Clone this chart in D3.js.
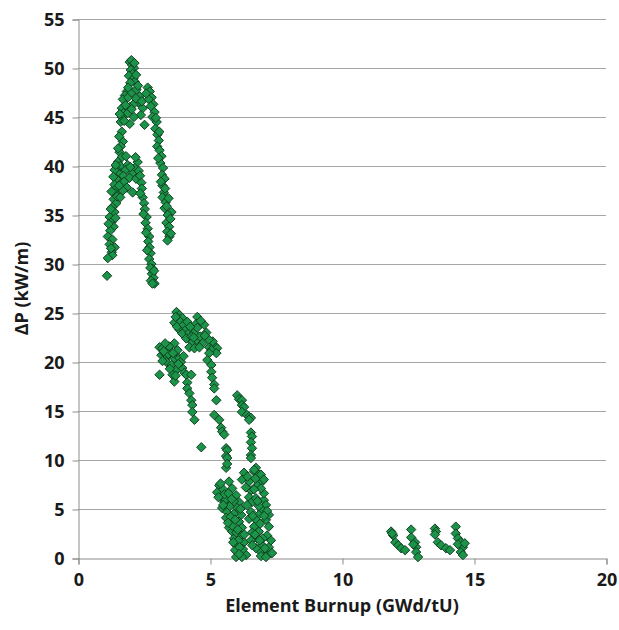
<!DOCTYPE html>
<html>
<head>
<meta charset="utf-8">
<script src="https://cdn.jsdelivr.net/npm/d3@7"></script>
<style>
  body { margin: 0; background: #fff; }
</style>
</head>
<body>
<div id="chart"></div>
<script>
// axis ticks
var xTicks = [0, 5, 10, 15, 20];
var yTicks = [0, 5, 10, 15, 20, 25, 30, 35, 40, 45, 50, 55];

// [burnup GWd/tU, dP kW/m], one list per cloud
var peakTop = [[1.96,50.6],[2.05,50.3],[2.12,50.0],[2.0,49.8],[2.07,49.4],[1.93,49.2],[2.1,48.9],[2.15,48.6],[1.98,48.5],[2.2,49.3],
  [1.85,47.6],[1.78,47.2],[1.7,46.8],[1.9,47.0],[2.03,47.5],[2.22,47.8],[2.34,47.1],[2.28,46.5],[2.1,46.3],[1.95,46.0],
  [1.66,45.9],[1.72,45.4],[1.88,45.4],[2.03,45.8],[2.45,45.9],[2.38,45.2],[1.66,45.0],[1.62,44.5],[1.96,44.3],[2.52,44.2],
  [2.2,46.9],[1.8,46.2],[2.42,46.6],[2.02,50.8],[2.14,50.5],[1.9,48.0],[2.27,48.2],[1.75,44.6],[2.12,45.0],[1.58,45.3]];

var peakRight = [[2.64,48.0],[2.72,47.6],[2.79,47.0],[2.68,46.8],[2.85,46.3],[2.9,45.5],[2.82,45.0],[2.98,44.5],[2.93,43.8],[3.01,43.2],
  [3.06,42.6],[3.0,42.0],[3.09,41.6],[3.16,41.0],[3.12,40.3],[3.22,39.8],[3.18,39.1],[3.28,38.7],[3.2,38.0],[3.25,37.3],
  [3.2,36.8],[3.32,36.3],[3.28,35.7],[3.54,35.3],[3.4,35.0],[3.35,34.2],[3.45,33.8],[3.38,33.3],[3.46,32.8],[3.39,32.4],[3.5,34.6],
  [2.58,47.4],[2.76,46.1],[2.95,44.9],[3.08,43.5],[3.04,40.8],[3.14,38.4],[3.3,37.7],[3.36,35.9],[3.43,36.7],[3.52,33.1]];

var peakLeft = [[1.66,43.5],[1.7,42.5],[1.62,42.0],[1.58,41.4],[1.66,40.9],[1.51,40.4],[1.6,40.0],[1.47,39.6],[1.55,39.2],[1.39,39.6],
  [1.45,38.7],[1.38,38.1],[1.5,37.8],[1.42,37.2],[1.35,36.6],[1.45,36.2],[1.3,35.8],[1.38,35.3],[1.2,34.8],[1.28,34.3],
  [1.35,33.8],[1.22,33.4],[1.13,32.8],[1.3,32.5],[1.2,32.0],[1.39,31.7],[1.28,31.2],[1.3,30.9],[1.13,30.6],[1.1,28.8],
  [1.56,43.0],[1.52,41.8],[1.43,40.1],[1.34,38.9],[1.27,37.4],[1.24,35.6],[1.16,34.1],[1.42,34.7],[1.25,31.6],[1.48,36.9]];

var peakMid = [[1.88,40.1],[1.8,39.6],[1.72,39.0],[2.26,40.4],[2.15,39.8],[2.3,39.5],[2.05,39.2],[1.95,38.8],[1.65,38.2],[1.75,38.4],
  [2.2,38.7],[1.85,37.8],[2.07,37.3],[1.7,37.5],[1.6,36.8],[2.35,39.0],[2.4,38.3],
  [2.42,37.7],[2.45,36.8],[2.5,36.2],[2.53,35.6],[2.6,34.8],[2.56,34.2],[2.64,33.6],[2.7,32.8],[2.66,32.3],[2.71,31.7],
  [2.75,31.1],[2.7,30.5],[2.78,30.0],[2.83,29.5],[2.8,29.0],[2.86,28.6],[2.9,28.0],[2.76,28.3],[2.82,28.0],
  [1.82,41.0],[2.18,40.9],[2.36,37.2],[2.48,35.1],[2.58,33.2],[2.62,31.4],[2.74,29.6],[2.88,29.3],[1.98,39.9],[1.56,38.0]];

var midUpper = [[3.73,25.1],[3.84,24.8],[3.78,24.5],[3.95,24.5],[3.65,24.0],[3.88,24.1],[3.84,23.3],[3.75,23.6],[4.0,23.8],[4.14,24.1],
  [4.05,23.2],[3.95,22.9],[4.22,23.0],[4.41,23.0],[4.52,24.6],[4.48,23.9],[4.78,23.8],[4.52,23.5],[4.86,23.0],[4.1,22.4],
  [4.3,22.6],[4.33,22.0],[4.52,22.2],[4.71,21.9],[4.62,22.6],[4.22,21.5],[4.41,21.4],[4.6,21.5],[4.97,21.5],[5.16,21.7],
  [5.27,21.4],[5.1,22.1],[4.95,22.3],[3.7,24.6],[4.25,23.6],[4.65,24.2],[4.38,22.5],[4.8,22.7],[5.05,21.2]];

var midLeft = [[3.09,21.5],[3.2,21.4],[3.16,20.7],[3.28,20.9],[3.39,20.5],[3.35,20.0],[3.2,20.1],[3.09,18.7],[3.54,19.7],[3.65,20.4],
  [3.65,21.9],[3.54,21.0],[3.77,21.2],[3.84,20.4],[3.73,19.2],[3.58,18.7],[3.65,18.0],[3.45,21.6],[3.3,21.9],[3.48,19.3],
  [3.95,19.4],[3.9,20.0],[3.8,19.8],[3.42,20.8],[3.6,20.9],[3.25,21.1],[3.7,18.6],[4.0,20.6],
  [4.03,18.9],[4.1,18.7],[4.29,18.7],[4.14,17.9],[4.14,17.3],[4.22,16.8],[4.29,16.1],[4.33,15.6],[4.33,14.9],[4.41,14.1],[4.67,11.3]];

var midRight = [[5.24,20.9],[4.97,20.9],[4.9,20.2],[5.05,19.7],[5.05,19.0],[5.08,18.4],[5.16,17.7],[5.16,17.3],[5.24,16.1],[5.16,14.6],
  [5.35,14.1],[5.42,13.3],[5.46,12.9],[5.54,12.6],[5.61,11.2],[5.65,11.0],[5.61,10.4],[5.65,10.2],[5.61,9.2],[5.65,9.6],
  [6.03,16.6],[6.1,16.2],[6.21,16.1],[6.21,15.6],[6.29,15.4],[6.21,14.9],[6.4,14.6],[6.48,14.4],[6.55,14.3],[6.48,14.1],
  [6.55,12.8],[6.59,12.4],[6.55,11.8],[6.59,11.2],[6.55,10.5],[6.55,10.2],[6.74,9.2]];

var lowLeft = [[5.35,7.4],[5.27,6.7],[5.42,6.2],[5.54,5.7],[5.46,5.1],[5.65,4.7],[5.61,4.1],[5.8,3.7],[5.72,3.1],[5.84,2.7],
  [5.91,2.0],[5.99,1.3],[6.03,0.6],[6.18,0.3],[6.37,0.3],[5.99,0.1],[6.21,0.1],[5.72,7.8],[5.84,7.1],[5.99,6.4],
  [6.1,5.7],[6.03,5.1],[6.18,4.4],[6.1,3.7],[6.21,3.1],[6.18,2.3],[6.29,1.6],[6.25,0.9],[5.5,7.0],[5.6,6.0],
  [5.75,5.3],[5.9,4.5],[5.85,3.3],[6.0,2.6],[6.08,1.8],[5.95,0.8],[5.4,7.6],[5.55,6.5],[5.7,6.6],[5.9,5.8],
  [5.78,4.2],[5.95,3.9],[6.12,1.1],[5.32,6.2],[5.5,5.4],[5.68,3.6],[5.88,1.6],[6.1,0.4],[6.05,2.9],[6.3,2.4],[5.82,6.0],[6.15,5.0]];

var lowRight = [[6.29,8.7],[6.21,8.0],[6.48,7.8],[6.67,8.8],[6.85,8.5],[6.97,7.8],[6.78,7.4],[6.55,6.9],[6.48,6.2],[6.59,5.7],
  [6.74,6.1],[7.04,5.9],[7.12,5.4],[6.97,4.9],[6.85,4.4],[6.74,3.9],[6.67,3.2],[6.85,2.7],[6.78,2.0],[6.97,1.3],
  [6.93,0.6],[7.12,0.3],[7.31,0.5],[7.23,1.1],[7.31,1.8],[7.16,2.3],[7.23,3.2],[7.12,3.9],[7.23,4.4],[7.16,4.8],
  [7.04,6.6],[6.93,7.1],[6.67,7.0],[6.4,5.4],[6.55,4.7],[6.48,4.0],[6.59,2.6],[6.55,1.8],[6.74,1.0],[6.93,0.2],
  [6.67,9.0],[6.93,8.5],[7.04,8.0],[7.35,0.5],[7.12,0.1],[6.36,7.2],[6.62,4.3],[6.9,3.5],[7.0,2.0],[6.6,1.3],[6.85,5.3],
  [6.42,8.3],[6.72,8.1],[6.8,5.8],[7.05,4.3],[6.88,1.8],[7.08,1.0],[6.7,2.4]];

var tail = [[11.86,2.7],[11.94,2.3],[12.02,1.6],[12.13,1.3],[12.24,1.0],[12.39,0.8],[11.9,2.5],
  [12.62,2.9],[12.62,2.1],[12.77,1.6],[12.81,1.1],[12.81,0.6],[12.88,0.1],[12.7,1.4],
  [13.52,3.0],[13.56,2.7],[13.52,2.4],[13.63,1.6],[13.75,1.3],[13.94,1.0],[14.09,0.8],
  [14.31,3.2],[14.31,2.5],[14.39,2.0],[14.5,1.6],[14.58,1.1],[14.5,0.6],[14.58,0.3],[14.39,1.4],[14.65,1.5]];

var allPoints = [].concat(peakTop, peakRight, peakLeft, peakMid, midUpper, midLeft, midRight, lowLeft, lowRight, tail);

var width = 619, height = 630;
var margin = {top: 19, right: 13, bottom: 72, left: 78};

var svg = d3.select('#chart').append('svg')
    .attr('width', width)
    .attr('height', height)
    .style('font-family', '"Open Sans", sans-serif');

var x = d3.scaleLinear().domain([0, 20]).range([margin.left, width - margin.right]);
var y = d3.scaleLinear().domain([0, 55]).range([height - margin.bottom, margin.top]);

// horizontal grid
svg.append('g')
    .selectAll('line')
    .data(yTicks.filter(function(d) { return d > 0; }))
    .join('line')
    .attr('x1', x(0))
    .attr('x2', x(20))
    .attr('y1', function(d) { return y(d) + 0.5; })
    .attr('y2', function(d) { return y(d) + 0.5; })
    .attr('stroke', '#a6a6a6')
    .attr('stroke-width', 1);

// y axis
var yAxis = svg.append('g')
    .attr('transform', 'translate(' + (x(0) + 0.5) + ',0.5)')
    .call(d3.axisLeft(y).tickValues(yTicks).tickSize(6).tickPadding(8));

// x axis
var xAxis = svg.append('g')
    .attr('transform', 'translate(0.5,' + (y(0) + 0.5) + ')')
    .call(d3.axisBottom(x).tickValues(xTicks).tickSize(6).tickPadding(9));

[yAxis, xAxis].forEach(function(a) {
  a.select('.domain').attr('stroke', '#8c8c8c');
  a.selectAll('.tick line').attr('stroke', '#8c8c8c');
  a.selectAll('.tick text')
      .attr('fill', '#1a1a1a')
      .attr('font-size', '18px')
      .attr('font-weight', 'bold')
      .attr('font-family', '"Open Sans", sans-serif');
});

// markers: diamonds
var diamond = d3.symbol().type(d3.symbolSquare).size(44);
svg.append('g')
    .selectAll('path')
    .data(allPoints)
    .join('path')
    .attr('d', diamond)
    .attr('transform', function(d) { return 'translate(' + x(d[0]) + ',' + y(d[1]) + ') rotate(45)'; })
    .attr('fill', '#1b944a')
    .attr('stroke', '#0e3a1d')
    .attr('stroke-width', 0.9);

// axis titles
svg.append('text')
    .attr('x', (x(0) + x(20)) / 2)
    .attr('y', 612)
    .attr('text-anchor', 'middle')
    .attr('font-size', '18px')
    .attr('font-weight', 'bold')
    .attr('fill', '#1a1a1a')
    .text('Element Burnup (GWd/tU)');

svg.append('text')
    .attr('transform', 'translate(28,' + ((y(0) + y(55)) / 2) + ') rotate(-90)')
    .attr('text-anchor', 'middle')
    .attr('font-size', '18px')
    .attr('font-weight', 'bold')
    .attr('fill', '#1a1a1a')
    .text('ΔP (kW/m)');
</script>
</body>
</html>
